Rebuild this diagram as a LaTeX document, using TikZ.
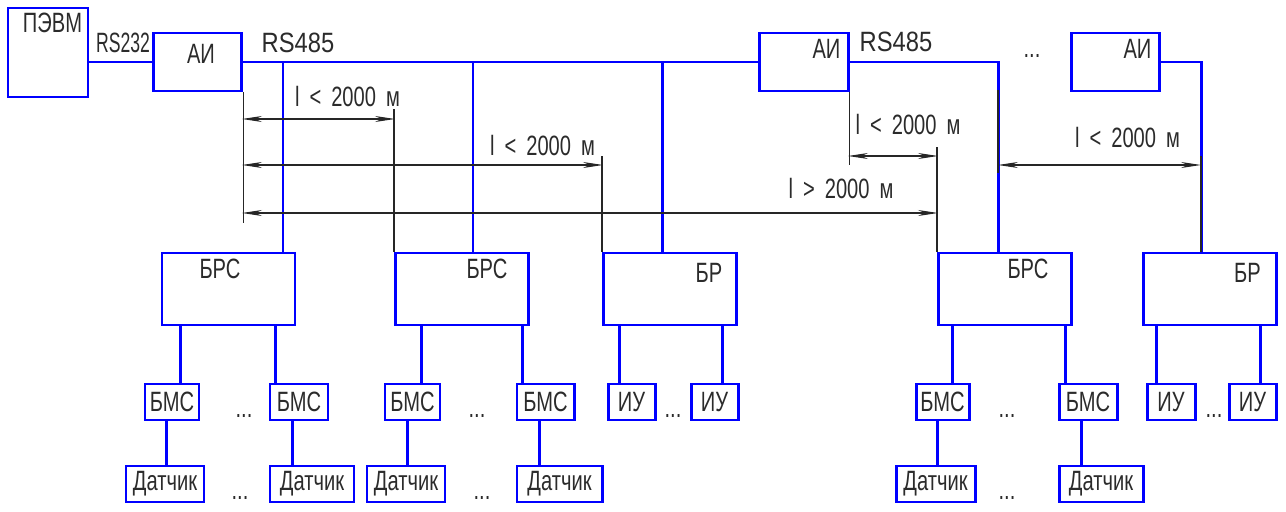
\documentclass[tikz,border=0pt]{standalone}
\usepackage{fontspec}
\setmainfont{Liberation Sans}[FakeStretch=0.72]
\newfontfamily\widefont{Liberation Sans}[FakeStretch=0.85]
\newfontfamily\narrowfont{Liberation Sans}[FakeStretch=0.63]
\usepackage{tikz}
\usetikzlibrary{arrows.meta}
\definecolor{schemeBlue}{HTML}{0000FF}
\definecolor{labelGray}{HTML}{2B2B2B}
\newcommand{\distlabel}[1]{l\hspace{0.2cm}#1\hspace{0.2cm}2000\hspace{0.2cm}м}
\tikzset{
    box_unit/.style={
        rectangle, draw=schemeBlue, line width=1.7pt, inner sep=0pt,
        minimum height=0.72cm, font=\fontsize{15.9}{16}\selectfont, text=labelGray
    },
    box_block/.style={box_unit, minimum width=2.66cm, minimum height=1.44cm},
    box_adapter/.style={box_unit, minimum width=1.77cm, minimum height=1.16cm},
    bus_line/.style={draw=schemeBlue, line width=1.7pt},
    dim_line/.style={draw=black!85, line width=0.6pt},
    dim_arrow/.style={
        dim_line, {Stealth[length=4mm, width=1.2mm]}-{Stealth[length=4mm, width=1.2mm]}
    },
    lbl/.style={
        font=\fontsize{15.9}{16}\selectfont, text=labelGray, inner sep=0pt, anchor=base
    }
}
\begin{document}
\begin{tikzpicture}[x=0.2mm, y=-0.2mm]
    \useasboundingbox (0,0) rectangle (1286,512);

    % upper level: computer and interface adapters
    \node[box_unit, minimum width=1.6cm, minimum height=1.78cm] (pevm) at (48,52.5) {};
    \node[lbl] (pevm_t) at (52.5,33) {ПЭВМ};
    \node[box_adapter] (ai1) at (197.5,62) {};
    \node[lbl] (ai1_t) at (201,64) {АИ};
    \node[box_adapter] (ai2) at (804,62) {};
    \node[lbl] (ai2_t) at (826.5,59) {АИ};
    \node[box_adapter] (ai3) at (1115.5,62) {};
    \node[lbl] (ai3_t) at (1137.5,59) {АИ};
    \node[lbl] (rs232) at (123,53) {\narrowfont RS232};
    \node[lbl] (rs485a) at (298,53) {\widefont RS485};
    \node[lbl] (rs485b) at (896,52) {\widefont RS485};
    \node[lbl] (dots_ai) at (1032,58) {...};

    % middle level
    \node[box_block] (brs1) at (228.5,289) {};
    \node[lbl] (brs1_t) at (220,279) {БРС};
    \node[box_block] (brs2) at (462,289) {};
    \node[lbl] (brs2_t) at (487,279) {БРС};
    \node[box_block] (br1) at (670,289) {};
    \node[lbl] (br1_t) at (709,283) {БР};
    \node[box_block] (brs4) at (1005,289) {};
    \node[lbl] (brs4_t) at (1028,279) {БРС};
    \node[box_block] (br2) at (1209.5,289) {};
    \node[lbl] (br2_t) at (1247.5,283) {БР};

    % lower level
    \node[box_unit, minimum width=1.08cm] (bms1a) at (172,402) {БМС};
    \node[box_unit, minimum width=1.16cm] (bms1b) at (299,402) {БМС};
    \node[box_unit, minimum width=1.10cm] (bms2a) at (412.5,402) {БМС};
    \node[box_unit, minimum width=1.14cm] (bms2b) at (545.5,402) {БМС};
    \node[box_unit, minimum width=0.94cm] (iu1a) at (631.5,402) {ИУ};
    \node[box_unit, minimum width=0.94cm] (iu1b) at (714.5,402) {ИУ};
    \node[box_unit, minimum width=1.06cm] (bms4a) at (942.5,402) {БМС};
    \node[box_unit, minimum width=1.16cm] (bms4b) at (1088,402) {БМС};
    \node[box_unit, minimum width=0.96cm] (iu2a) at (1171,402) {ИУ};
    \node[box_unit, minimum width=0.94cm] (iu2b) at (1252.5,402) {ИУ};

    \node[box_unit, minimum width=1.56cm] (sen1a) at (165,484) {Датчик};
    \node[box_unit, minimum width=1.68cm] (sen1b) at (312,484) {Датчик};
    \node[box_unit, minimum width=1.56cm] (sen2a) at (406,484) {Датчик};
    \node[box_unit, minimum width=1.70cm] (sen2b) at (559.5,484) {Датчик};
    \node[box_unit, minimum width=1.58cm] (sen4a) at (935.5,484) {Датчик};
    \node[box_unit, minimum width=1.68cm] (sen4b) at (1101,484) {Датчик};

    \foreach \pos/\nm in {244/d1, 477/d2, 673/d3, 1007/d4, 1214/d5}
        \node[lbl] (dots_\nm) at (\pos,417) {...};
    \foreach \pos/\nm in {240/s1, 482/s2, 1007/s4}
        \node[lbl] (dots_\nm) at (\pos,499) {...};

    % RS485 bus
    \coordinate (tap1) at (283,62);
    \coordinate (tap2) at (473,62);
    \coordinate (tap3) at (662,62);
    \coordinate (bend1) at (998,62);
    \coordinate (bend2) at (1201,62);
    \draw[bus_line] (pevm.east |- ai1.west) -- (ai1.west);
    \draw[bus_line] (ai1.east) -- (ai2.west);
    \foreach \t/\b in {tap1/brs1, tap2/brs2, tap3/br1}
        \draw[bus_line] (\t) -- (\t |- \b.north);
    \draw[bus_line] (ai2.east) -- (bend1) -- (bend1 |- brs4.north);
    \draw[bus_line] (ai3.east) -- (bend2) -- (bend2 |- br2.north);

    % drops to the lower units
    \foreach \src/\dst/\dx in {brs1/bms1a/0.40cm, brs1/bms1b/2.30cm, brs2/bms2a/0.54cm,
        brs2/bms2b/2.56cm, br1/iu1a/0.34cm, br1/iu1b/2.40cm, brs4/bms4a/0.30cm,
        brs4/bms4b/2.56cm, br2/iu2a/0.30cm, br2/iu2b/2.38cm,
        bms1a/sen1a/0.46cm, bms1b/sen1b/0.48cm, bms2a/sen2a/0.48cm,
        bms2b/sen2b/0.48cm, bms4a/sen4a/0.46cm, bms4b/sen4b/0.48cm}
        \draw[bus_line] ([xshift=\dx]\src.south west) coordinate (tap) -- (tap |- \dst.north);

    % dimensions
    \draw[dim_line] (ai1.south east) -- ++(0,131);
    \draw[dim_line] (brs2.north west) -- ++(0,-143);
    \draw[dim_line] (br1.north west) -- ++(0,-96);
    \draw[dim_line] (brs4.north west) -- ++(0,-105);
    \draw[dim_line] (ai2.south east) -- ++(0,73);
    \draw[dim_line] (bend1) ++(0,28) -- ++(0,83);
    \draw[dim_line] (bend2 |- br2.north) -- ++(0,-96);

    \coordinate (m1l) at (242,119);  \coordinate (m1r) at (395,119);
    \coordinate (m2l) at (242,165);  \coordinate (m2r) at (603,165);
    \coordinate (m3l) at (242,213);  \coordinate (m3r) at (938,213);
    \coordinate (m4l) at (848,156);  \coordinate (m4r) at (938,156);
    \coordinate (m5l) at (998,165);  \coordinate (m5r) at (1201,165);
    \draw[dim_arrow] (m1l) -- (m1r);
    \draw[dim_arrow] (m2l) -- (m2r);
    \draw[dim_arrow] (m3l) -- (m3r);
    \draw[dim_arrow] (m4l) -- (m4r);
    \draw[dim_arrow] (m5l) -- (m5r);
    \node[lbl] (len1) at (347.5,107) {\distlabel{<}};
    \node[lbl] (len2) at (542.5,156) {\distlabel{<}};
    \node[lbl] (len3) at (841,199) {\distlabel{>}};
    \node[lbl] (len4) at (908,135) {\distlabel{<}};
    \node[lbl] (len5) at (1127.5,148) {\distlabel{<}};
\end{tikzpicture}
\end{document}
